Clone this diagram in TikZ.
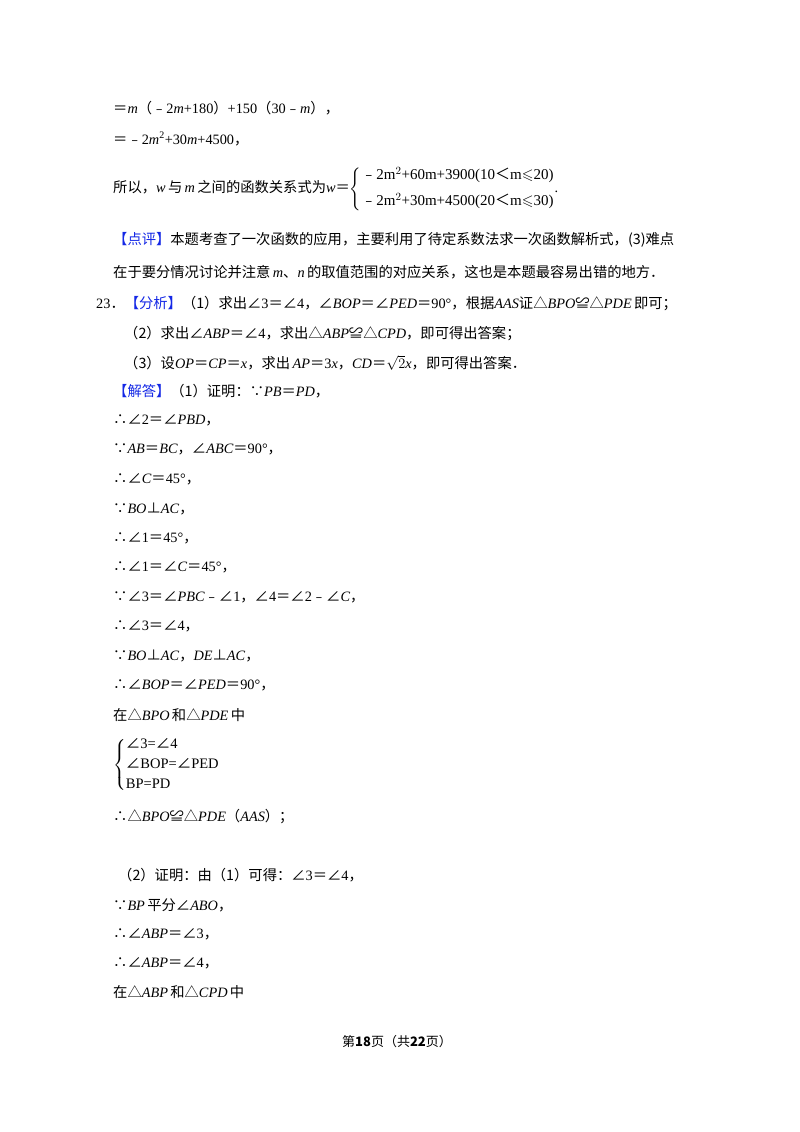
\documentclass[tikz,border=0pt]{standalone}
\usepackage{amssymb}
\usepackage{fontspec}
\setmainfont{Liberation Serif}
\newfontfamily\cjk{Noto Sans CJK SC}
\newcommand{\z}[1]{{\cjk #1}}
\newcommand{\mi}[1]{\textit{#1}}
\definecolor{lblue}{RGB}{20,40,230}
\newcommand{\tag}[1]{{\cjk\color{lblue}【#1】}}
\begin{document}
\begin{tikzpicture}[x=1pt,y=-1pt,
  t/.style={anchor=west,inner sep=0pt,font=\fontsize{14.3}{16}\selectfont}]
\useasboundingbox (0,0) rectangle (800,1132);
\fill[white] (0,0) rectangle (800,1132);
\node[t] (l1) at (113,108) {\z{＝}\mi{m}\z{（﹣}2\mi{m}+180\z{）}+150\z{（}30\z{﹣}\mi{m}\z{），}};
\node[t] (l2) at (113,139) {\z{＝﹣}2\mi{m}\textsuperscript{2}+30\mi{m}+4500\z{，}};
\node[t] (l3) at (113,189) {\z{所以，}\mi{w}\,\z{与}\,\mi{m}\,\z{之间的函数关系式为}\mi{w}\z{＝}$\left\{\begin{array}{@{}l@{}}\textrm{\fontsize{15}{16}\selectfont \z{﹣}2m$^2$+60m+3900(10\z{＜}m$\leqslant$20)}\\[9pt]\textrm{\fontsize{15}{16}\selectfont \z{﹣}2m$^2$+30m+4500(20\z{＜}m$\leqslant$30)}\end{array}\right.$.};
\node[t] (l4) at (113,240) {\tag{点评}\z{本题考查了一次函数的应用，主要利用了待定系数法求一次函数解析式，(3)难点}};
\node[t] (l5) at (113,272) {\z{在于要分情况讨论并注意}\,\mi{m}\z{、}\mi{n}\,\z{的取值范围的对应关系，这也是本题最容易出错的地方．}};
\node[t] (l6) at (96,304) {23\z{．}\tag{分析}\z{（1）求出∠}3\z{＝∠}4\z{，∠}\mi{BOP}\z{＝∠}\mi{PED}\z{＝}90°\z{，根据}\mi{AAS}\z{证△}\mi{BPO}\z{≌△}\mi{PDE}\,\z{即可；}};
\node[t] (l7) at (124,334) {\z{（2）求出∠}\mi{ABP}\z{＝∠}4\z{，求出△}\mi{ABP}\z{≌△}\mi{CPD}\z{，即可得出答案；}};
\node[t] (l8) at (124,363) {\z{（3）设}\mi{OP}\z{＝}\mi{CP}\z{＝}\mi{x}\z{，求出}\,\mi{AP}\z{＝}3\mi{x}\z{，}\mi{CD}\z{＝}$\sqrt{2}$\mi{x}\z{，即可得出答案．}};
\node[t] (l9) at (113,391) {\tag{解答}\z{（1）证明：∵}\mi{PB}\z{＝}\mi{PD}\z{，}};
\node[t] (l10) at (113,420) {\z{∴∠}2\z{＝∠}\mi{PBD}\z{，}};
\node[t] (l11) at (113,449.5) {\z{∵}\mi{AB}\z{＝}\mi{BC}\z{，∠}\mi{ABC}\z{＝}90°\z{，}};
\node[t] (l12) at (113,479) {\z{∴∠}\mi{C}\z{＝}45°\z{，}};
\node[t] (l13) at (113,508.5) {\z{∵}\mi{BO}\z{⊥}\mi{AC}\z{，}};
\node[t] (l14) at (113,538) {\z{∴∠}1\z{＝}45°\z{，}};
\node[t] (l15) at (113,567.5) {\z{∴∠}1\z{＝∠}\mi{C}\z{＝}45°\z{，}};
\node[t] (l16) at (113,597) {\z{∵∠}3\z{＝∠}\mi{PBC}\z{﹣∠}1\z{，∠}4\z{＝∠}2\z{﹣∠}\mi{C}\z{，}};
\node[t] (l17) at (113,626.5) {\z{∴∠}3\z{＝∠}4\z{，}};
\node[t] (l18) at (113,656) {\z{∵}\mi{BO}\z{⊥}\mi{AC}\z{，}\mi{DE}\z{⊥}\mi{AC}\z{，}};
\node[t] (l19) at (113,685.5) {\z{∴∠}\mi{BOP}\z{＝∠}\mi{PED}\z{＝}90°\z{，}};
\node[t] (l20) at (113,715) {\z{在△}\mi{BPO}\,\z{和△}\mi{PDE}\,\z{中}};
\node[t] (l21) at (113,765) {$\left\{\begin{array}{@{}l@{}}\textrm{\fontsize{14.5}{16}\selectfont\z{∠}3=\z{∠}4}\\[4pt]\textrm{\fontsize{14.5}{16}\selectfont\z{∠}BOP=\z{∠}PED}\\[4pt]\textrm{\fontsize{14.5}{16}\selectfont BP=PD}\end{array}\right.$};
\node[t] (l22) at (113,817) {\z{∴△}\mi{BPO}\z{≌△}\mi{PDE}\z{（}\mi{AAS}\z{）；}};
\node[t] (l23) at (118,875) {\z{（2）证明：由（1）可得：∠}3\z{＝∠}4\z{，}};
\node[t] (l24) at (113,905) {\z{∵}\mi{BP}\,\z{平分∠}\mi{ABO}\z{，}};
\node[t] (l25) at (113,934) {\z{∴∠}\mi{ABP}\z{＝∠}3\z{，}};
\node[t] (l26) at (113,963) {\z{∴∠}\mi{ABP}\z{＝∠}4\z{，}};
\node[t] (l27) at (113,992) {\z{在△}\mi{ABP}\,\z{和△}\mi{CPD}\,\z{中}};
\node[anchor=center,inner sep=0pt,font=\fontsize{13}{15}\selectfont] (ft) at (397,1042) {\cjk 第\textbf{18}页（共\textbf{22}页）};
\end{tikzpicture}
\end{document}
